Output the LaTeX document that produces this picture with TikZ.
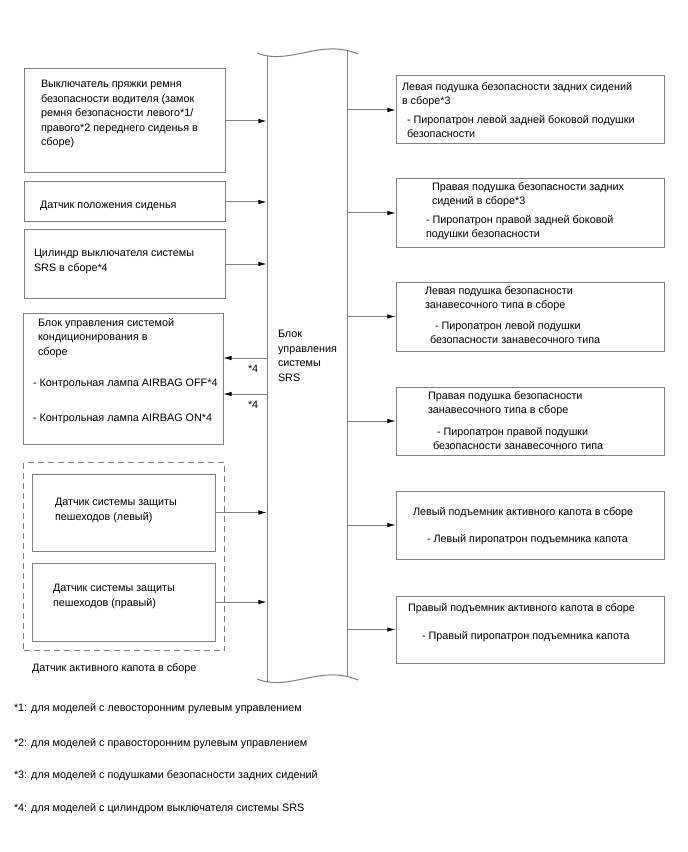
\documentclass[tikz,border=0pt]{standalone}
\usepackage{fontspec}
\setmainfont{Liberation Sans}
\usetikzlibrary{arrows.meta}
\definecolor{lg}{RGB}{128,128,128}
\begin{document}
\begin{tikzpicture}[x=0.75pt,y=-0.75pt,
 box/.style={draw=lg, line width=0.75pt, inner sep=0pt, outer sep=0pt, anchor=north west},
 sz/.style 2 args={minimum width=#1*0.75pt, minimum height=#2*0.75pt},
 txt/.style={anchor=north west, inner sep=0pt, outer sep=0pt, align=left, yshift=-1pt, font=\fontsize{8.1}{10.9}\selectfont, execute at begin node=\strut},
 conn/.style={draw=lg, line width=0.75pt, -{Latex[length=6.5pt,width=3.4pt,color=black]}},
 col/.style={draw=lg, line width=0.75pt},
 grpbox/.style={draw=lg, line width=0.75pt, dash pattern=on 4.5pt off 3pt, inner sep=0pt, anchor=north west}
]
\useasboundingbox (0,0) rectangle (688,852);

% central column
\draw[col] (257,53) .. controls (290,66) and (320,38) .. (358,54);
\draw[col] (257,679) .. controls (290,692) and (320,664) .. (358,680);
\draw[col] (267,55.8) -- (267,681.8);
\draw[col] (347,50.4) -- (347,676.4);
\coordinate (cl) at (267,0);
\coordinate (cr) at (347,0);
\node[txt] (srs) at (278,328.8) {Блок\\управления\\системы\\SRS};

% left boxes
\node[box, sz={201}{104}] (b1) at (24,69) {};
\node[txt] (t1) at (41,78.8) {Выключатель пряжки ремня\\безопасности водителя (замок\\ремня безопасности левого*1/\\правого*2 переднего сиденья в\\сборе)};

\node[box, sz={201}{40}] (b2) at (24,182) {};
\node[txt] (t2) at (40,196.8) {Датчик положения сиденья};

\node[box, sz={201}{68}] (b3) at (24,230) {};
\node[txt] (t3) at (34,247.8) {Цилиндр выключателя системы\\SRS в сборе*4};

\node[box, sz={200}{131}] (b4) at (23,313) {};
\node[txt] (t4a) at (38,316.8) {Блок управления системой\\кондиционирования в\\сборе};
\node[txt] (t4b) at (33,374.8) {- Контрольная лампа AIRBAG OFF*4};
\node[txt] (t4c) at (33,409.8) {- Контрольная лампа AIRBAG ON*4};

% pedestrian sensors group
\node[grpbox, sz={201}{188}] (grp) at (23,462) {};
\node[box, sz={183}{77}] (p1) at (32,474) {};
\node[txt] (tp1) at (55,496.8) {Датчик системы защиты\\пешеходов (левый)};
\node[box, sz={183}{78}] (p2) at (32,563) {};
\node[txt] (tp2) at (53,582.8) {Датчик системы защиты\\пешеходов (правый)};
\node[txt] (tgrp) at (32,659.8) {Датчик активного капота в сборе};

% right boxes
\node[box, sz={268}{68}] (r1) at (396,76) {};
\node[txt] (r1a) at (402,80.8) {Левая подушка безопасности задних сидений\\в сборе*3};
\node[txt] (r1b) at (407,113.8) {- Пиропатрон левой задней боковой подушки\\безопасности};

\node[box, sz={268}{68}] (r2) at (396,179) {};
\node[txt] (r2a) at (432,180.8) {Правая подушка безопасности задних\\сидений в сборе*3};
\node[txt] (r2b) at (426,213.8) {- Пиропатрон правой задней боковой\\подушки безопасности};

\node[box, sz={268}{69}] (r3) at (396,282) {};
\node[txt] (r3a) at (425,284.8) {Левая подушка безопасности\\занавесочного типа в сборе};
\node[txt] (r3b) at (435,317.8) {- Пиропатрон левой подушки};
\node[txt] (r3c) at (430,332.3) {безопасности занавесочного типа};

\node[box, sz={268}{68}] (r4) at (396,387) {};
\node[txt] (r4a) at (428,389.8) {Правая подушка безопасности\\занавесочного типа в сборе};
\node[txt] (r4b) at (437,423.8) {- Пиропатрон правой подушки};
\node[txt] (r4c) at (433,438.3) {безопасности занавесочного типа};

\node[box, sz={268}{68}] (r5) at (396,491) {};
\node[txt] (r5a) at (413,503.8) {Левый подъемник активного капота в сборе};
\node[txt] (r5b) at (427,530.8) {- Левый пиропатрон подъемника капота};

\node[box, sz={268}{67}] (r6) at (396,596) {};
\node[txt] (r6a) at (408,599.8) {Правый подъемник активного капота в сборе};
\node[txt] (r6b) at (422,627.8) {- Правый пиропатрон подъемника капота};

% connectors
\draw[conn] (b1.east) -- (b1.east -| cl);
\draw[conn] (b2.east) -- (b2.east -| cl);
\draw[conn] (b3.east) -- (b3.east -| cl);
\draw[conn] (p1.east) -- (p1.east -| cl);
\draw[conn] (p2.east) -- (p2.east -| cl);
\coordinate (k1) at (267,358);
\coordinate (k2) at (267,394);
\draw[conn] (k1) -- (k1 -| b4.east);
\draw[conn] (k2) -- (k2 -| b4.east);
\node[txt] (s1) at (248,360.8) {*4};
\node[txt] (s2) at (248,396.8) {*4};
\foreach \r in {r1,r2,r3,r4,r5,r6}
  \draw[conn] (\r.west -| cr) -- (\r.west);

% footnotes
\node[txt] (f1) at (14,699.8) {*1: для моделей с левосторонним рулевым управлением};
\node[txt] (f2) at (14,734.8) {*2: для моделей с правосторонним рулевым управлением};
\node[txt] (f3) at (14,766.8) {*3: для моделей с подушками безопасности задних сидений};
\node[txt] (f4) at (14,799.8) {*4: для моделей с цилиндром выключателя системы SRS};
\end{tikzpicture}
\end{document}
